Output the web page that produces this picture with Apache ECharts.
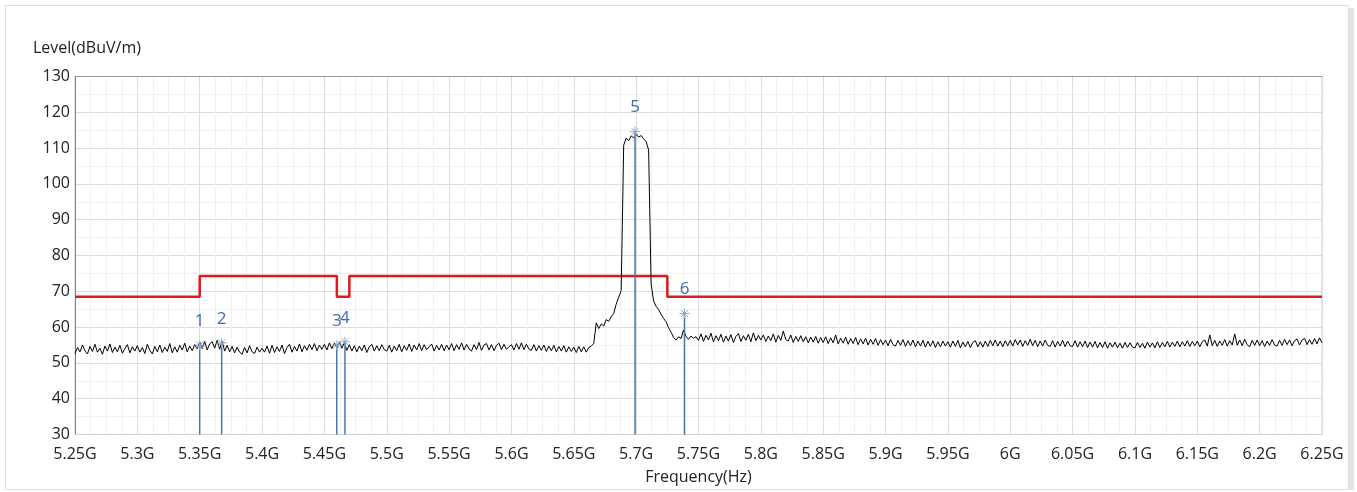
<!DOCTYPE html>
<html>
<head>
<meta charset="utf-8">
<title>Level vs Frequency</title>
<script src="https://cdn.jsdelivr.net/npm/echarts@6/dist/echarts.min.js"></script>
<style>
  html, body { margin: 0; padding: 0; background: #fff; }
  #chart { width: 1357px; height: 492px; }
</style>
</head>
<body>
<div id="chart"></div>
<script>
// analyzer sweep: 5.25G .. 6.25G, 501 points
const sweepStart = 5.25
const sweepStep = 0.002

// measured level (dBuV/m), one row = 0.05 GHz
const levels = [
  52.6, 54.3, 53.1, 55.0, 53.4, 52.5, 54.6, 53.2, 55.2, 53.0, 54.1, 52.4, 54.7, 53.3, 55.3, 52.9, 54.4, 53.1, 54.9, 52.7, 54.0, 55.1, 52.8, 54.5, 53.3,
  54.8, 53.0, 54.3, 52.6, 55.2, 53.5, 52.5, 54.6, 53.1, 55.0, 52.9, 54.4, 53.2, 55.4, 52.8, 54.5, 53.0, 54.9, 53.6, 55.5, 53.1, 54.7, 53.4, 55.1, 53.9,
  55.8, 54.0, 56.0, 53.6, 55.3, 55.9, 54.1, 56.3, 53.8, 56.1, 53.3, 54.9, 53.1, 54.6, 52.8, 54.4, 53.0, 52.4, 54.3, 52.8, 54.8, 53.1, 52.6, 54.4, 53.0,
  54.1, 53.0, 54.7, 52.7, 54.9, 52.9, 54.5, 53.2, 55.0, 52.6, 54.3, 55.2, 53.0, 54.6, 53.3, 55.3, 53.1, 54.8, 53.5, 55.2, 53.7, 55.4, 53.4, 55.0, 53.8,
  55.2, 53.6, 55.6, 54.0, 55.5, 54.3, 55.9, 54.1, 55.7, 53.5, 55.1, 53.3, 54.8, 53.1, 54.7, 53.4, 55.0, 52.9, 54.5, 55.2, 53.3, 54.8, 53.4, 55.1, 53.7,
  53.3, 54.9, 53.0, 54.7, 53.4, 55.2, 53.1, 54.8, 53.5, 55.3, 53.2, 55.0, 53.6, 55.4, 53.4, 55.1, 53.7, 54.5, 55.3, 53.3, 54.9, 53.6, 55.2, 53.4, 55.0,
  53.7, 55.4, 53.4, 55.1, 53.8, 55.6, 53.6, 55.2, 53.9, 53.3, 55.1, 53.7, 55.7, 53.5, 55.0, 55.4, 53.6, 55.1, 53.4, 54.9, 55.5, 53.7, 55.2, 53.8, 54.5,
  55.1, 53.6, 55.4, 53.8, 55.6, 53.7, 55.2, 53.9, 53.5, 55.1, 53.3, 54.8, 53.5, 55.0, 53.2, 54.7, 53.4, 54.9, 53.1, 54.6, 53.3, 54.8, 53.0, 54.5, 53.2,
  54.4, 52.9, 54.6, 53.1, 54.5, 53.0, 54.3, 54.7, 55.4, 61.2, 59.6, 60.9, 60.3, 62.1, 61.6, 62.9, 63.8, 66.4, 68.3, 70.2, 110.8, 112.8, 112.1, 113.4, 112.9,
  113.8, 113.1, 113.5, 112.6, 111.8, 109.5, 72.0, 67.3, 65.8, 64.9, 63.6, 62.4, 61.5, 59.8, 58.6, 57.1, 56.4, 57.3, 56.8, 59.2, 57.4, 56.6, 57.5, 56.9, 57.3,
  56.3, 58.1, 56.0, 57.7, 56.4, 58.3, 55.9, 57.6, 56.2, 58.0, 55.8, 57.5, 56.1, 57.9, 55.7, 57.4, 58.2, 56.0, 57.6, 56.3, 58.0, 55.9, 58.4, 56.2, 57.7,
  56.4, 57.8, 56.0, 57.5, 56.2, 58.1, 55.8, 57.7, 56.3, 58.9, 56.5, 56.1, 57.8, 55.7, 57.4, 56.0, 57.6, 55.9, 57.3, 55.6, 57.2, 55.8, 57.4, 55.5, 57.1,
  55.7, 57.3, 55.4, 57.0, 55.6, 57.8, 55.3, 56.9, 55.5, 57.2, 55.2, 56.8, 55.4, 57.1, 55.1, 56.7, 55.3, 56.9, 55.0, 56.6, 55.2, 56.8, 54.9, 56.5, 55.1,
  56.4, 54.8, 56.6, 55.1, 54.7, 56.3, 54.9, 56.5, 54.6, 56.2, 54.8, 56.4, 54.5, 56.1, 54.7, 56.3, 54.4, 56.0, 54.6, 56.2, 54.3, 55.9, 54.5, 56.1, 54.7,
  55.9, 54.4, 56.1, 54.6, 56.3, 54.2, 55.8, 54.5, 56.0, 54.3, 55.7, 56.2, 54.5, 55.9, 54.4, 56.1, 54.6, 56.3, 54.8, 56.4, 54.7, 56.1, 54.5, 56.2, 54.8,
  56.3, 54.7, 56.5, 55.0, 56.4, 54.6, 56.2, 54.9, 56.6, 54.8, 56.3, 54.5, 56.1, 54.7, 56.4, 54.9, 54.6, 56.2, 54.4, 56.0, 54.7, 56.3, 54.5, 56.1, 54.8,
  54.6, 56.2, 54.4, 55.9, 54.5, 56.1, 54.3, 55.8, 54.4, 56.0, 54.2, 55.7, 54.3, 55.9, 54.1, 55.6, 54.4, 55.8, 54.2, 55.5, 54.1, 55.7, 54.3, 55.6, 54.4,
  54.2, 55.7, 54.3, 55.5, 54.1, 55.8, 54.4, 55.6, 54.2, 55.9, 54.3, 55.7, 54.5, 56.0, 54.4, 55.8, 54.6, 56.1, 54.5, 55.9, 54.7, 56.2, 54.6, 56.0, 54.8,
  56.1, 54.5, 55.9, 56.4, 54.7, 57.8, 54.8, 56.3, 54.6, 56.1, 54.9, 56.5, 54.7, 56.2, 55.0, 58.1, 54.9, 56.4, 54.8, 56.6, 55.1, 54.5, 56.3, 54.9, 56.4,
  54.8, 56.2, 54.6, 56.1, 54.9, 56.5, 55.0, 54.7, 56.3, 54.9, 56.6, 55.1, 56.4, 54.8, 56.2, 56.7, 55.0, 56.4, 56.9, 55.1, 56.5, 55.2, 56.8, 55.3, 57.0,
  55.6
]

// limit line
const limitFreq = [5.25, 5.35, 5.35, 5.46, 5.46, 5.47, 5.47, 5.725, 5.725, 6.25]
const limitLevel = [68.5, 68.5, 74.3, 74.3, 68.5, 68.5, 74.3, 74.3, 68.5, 68.5]

// markers
const markerNames = ['1', '2', '3', '4', '5', '6']
const markerFreq = [5.350, 5.3676, 5.4599, 5.4665, 5.6991, 5.7388]
const markerLevel = [55.0, 55.6, 55.0, 55.9, 114.6, 63.8]

const levelMin = 30
const levelMax = 130

const chart = echarts.init(document.getElementById('chart'))

const fontFamily = '"Open Sans", "Noto Sans", sans-serif'

const trace = levels.map((v, i) => [sweepStart + i * sweepStep, v])
const limit = limitFreq.map((f, i) => [f, limitLevel[i]])
const markers = markerFreq.map((f, i) => [f, markerLevel[i], markerNames[i]])

function renderMarker(params, api) {
  const f = api.value(0)
  const v = api.value(1)
  const base = api.coord([f, levelMin])
  const top = api.coord([f, v])
  const r = 5
  const star = [
    [[-r, 0], [r, 0]],
    [[0, -r], [0, r]],
    [[-r * 0.7, -r * 0.7], [r * 0.7, r * 0.7]],
    [[-r * 0.7, r * 0.7], [r * 0.7, -r * 0.7]]
  ].map(p => ({
    type: 'line',
    shape: { x1: top[0] + p[0][0], y1: top[1] + p[0][1], x2: top[0] + p[1][0], y2: top[1] + p[1][1] },
    style: { stroke: '#8fa9cc', lineWidth: 1 }
  }))
  return {
    type: 'group',
    children: [
      {
        type: 'line',
        shape: { x1: base[0], y1: base[1], x2: top[0], y2: top[1] },
        style: { stroke: '#4a76ad', lineWidth: 1.5 }
      }
    ].concat(star, [{
      type: 'text',
      x: top[0],
      y: top[1] - 24,
      style: {
        text: api.value(2),
        fill: '#3d6bb3',
        font: '17px ' + fontFamily,
        align: 'center',
        verticalAlign: 'middle'
      }
    }])
  }
}

chart.setOption({
  animation: false,
  backgroundColor: '#fff',
  title: {
    text: 'Level(dBuV/m)',
    left: 28,
    top: 35,
    textStyle: { fontSize: 16, fontWeight: 'normal', color: '#222', fontFamily }
  },
  graphic: [
    { type: 'rect', shape: { x: 1349, y: 8, width: 5, height: 482 }, style: { fill: '#e4e4e4' } },
    { type: 'rect', shape: { x: 5.5, y: 5.5, width: 1343, height: 484 }, style: { fill: 'none', stroke: '#dedede', lineWidth: 1 } }
  ],
  grid: {
    left: 75,
    right: 35,
    top: 76.5,
    bottom: 57.5,
    outerBoundsMode: 'none',
    show: true,
    borderColor: '#d0d0d0',
    borderWidth: 1
  },
  xAxis: [{
    type: 'value',
    min: 5.25,
    max: 6.25,
    interval: 0.05,
    name: 'Frequency(Hz)',
    nameLocation: 'middle',
    nameGap: 35,
    nameTextStyle: { fontSize: 16, color: '#222', fontFamily },
    axisLine: { show: true, onZero: false, lineStyle: { color: '#d0d0d0' } },
    axisTick: { show: false },
    axisLabel: {
      fontSize: 16,
      color: '#222',
      fontFamily,
      margin: 12,
      formatter: v => parseFloat(v.toFixed(2)) + 'G'
    },
    splitLine: { show: true, lineStyle: { color: '#dddddd', width: 1 } },
    minorTick: { show: false, splitNumber: 4 },
    minorSplitLine: { show: true, lineStyle: { color: '#f0f0f0', width: 1 } }
  }, {
    type: 'value',
    position: 'top',
    min: 5.25,
    max: 6.25,
    axisLine: { show: true, lineStyle: { color: '#9a9a9a' } },
    axisTick: { show: false },
    axisLabel: { show: false },
    splitLine: { show: false }
  }],
  yAxis: {
    type: 'value',
    min: levelMin,
    max: levelMax,
    interval: 10,
    axisLine: { show: true, lineStyle: { color: '#7e7e7e' } },
    axisTick: { show: false },
    axisLabel: { fontSize: 16, color: '#222', fontFamily, margin: 5 },
    splitLine: { show: true, lineStyle: { color: '#dddddd', width: 1 } },
    minorTick: { show: false, splitNumber: 2 },
    minorSplitLine: { show: true, lineStyle: { color: '#f0f0f0', width: 1 } }
  },
  series: [
    {
      name: 'Limit',
      type: 'line',
      data: limit,
      symbol: 'none',
      lineStyle: { color: '#e0191f', width: 2.5 },
      z: 3
    },
    {
      name: 'Level',
      type: 'line',
      data: trace,
      symbol: 'none',
      lineStyle: { color: '#000', width: 1 },
      z: 4
    },
    {
      name: 'Markers',
      type: 'custom',
      data: markers,
      renderItem: renderMarker,
      z: 5
    }
  ]
})
</script>
</body>
</html>
